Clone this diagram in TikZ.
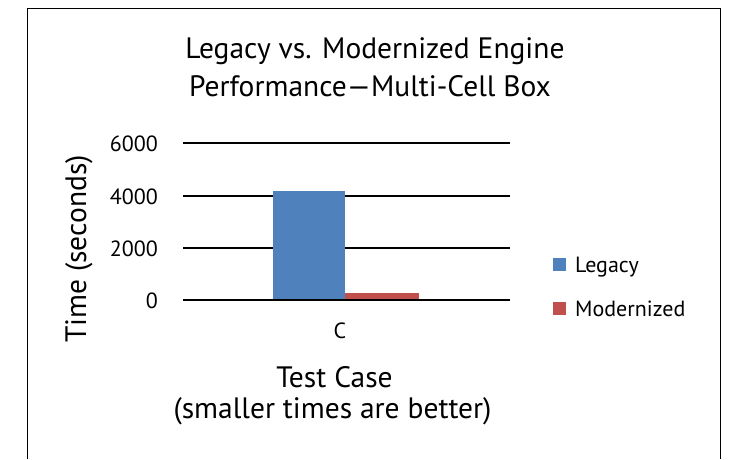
\documentclass[tikz,border=0pt]{standalone}
\usepackage{fontspec}
\setmainfont{PT Sans}
\definecolor{legacyblue}{HTML}{4F81BD}
\definecolor{modred}{HTML}{C0504D}
\begin{document}
\begin{tikzpicture}[x=1pt,y=-1pt,
  big/.style={font=\fontsize{29.5}{34}\selectfont, inner sep=0pt},
  small/.style={font=\fontsize{22}{26}\selectfont, inner sep=0pt},
  grid/.style={draw=black, line width=1.2pt},
  frame/.style={draw=black, line width=1pt}]
\useasboundingbox (0,0) rectangle (736,459);
% frame
\draw[frame] (27.5,459) -- (27.5,8.5) -- (720,8.5) -- (720,459);
% title
\node[big, anchor=base] (t1) at (375,58) {Legacy vs. Modernized Engine};
\node[big, anchor=base] (t2) at (370,96) {Performance—Multi-Cell Box};
% grid lines
\coordinate (g6l) at (183,143); \coordinate (g6r) at (510,143);
\coordinate (g4l) at (183,196); \coordinate (g4r) at (510,196);
\coordinate (g2l) at (183,248); \coordinate (g2r) at (510,248);
\coordinate (g0l) at (183,300); \coordinate (g0r) at (510,300);
\draw[grid] (g6l) -- (g6r);
\draw[grid] (g4l) -- (g4r);
\draw[grid] (g2l) -- (g2r);
% bars
\fill[legacyblue] (272.5,191) rectangle (345,300) node[pos=.5] (barL) {};
\fill[modred] (345,293) rectangle (419,300) node[pos=.5] (barM) {};
\draw[grid] (g0l) -- (g0r);
% tick labels
\node[small, anchor=base east] (y6) at (158,151) {6000};
\node[small, anchor=base east] (y4) at (158,204) {4000};
\node[small, anchor=base east] (y2) at (158,256) {2000};
\node[small, anchor=base east] (y0) at (158,308) {0};
\node[small, anchor=base] (xc) at (340,338) {C};
% axis titles
\node[big, anchor=base, rotate=90] (ytitle) at (86,249) {Time (seconds)};
\node[big, anchor=base] (xt1) at (334.5,387) {Test Case};
\node[big, anchor=base] (xt2) at (332.5,418) {(smaller times are better)};
% legend
\fill[legacyblue] (552.5,258) rectangle (566,271) node[pos=.5] (kL) {};
\fill[modred] (552.5,301.5) rectangle (566,314.5) node[pos=.5] (kM) {};
\node[small, anchor=base west] (lL) at (575,272) {Legacy};
\node[small, anchor=base west] (lM) at (575,316) {Modernized};
\end{tikzpicture}
\end{document}
